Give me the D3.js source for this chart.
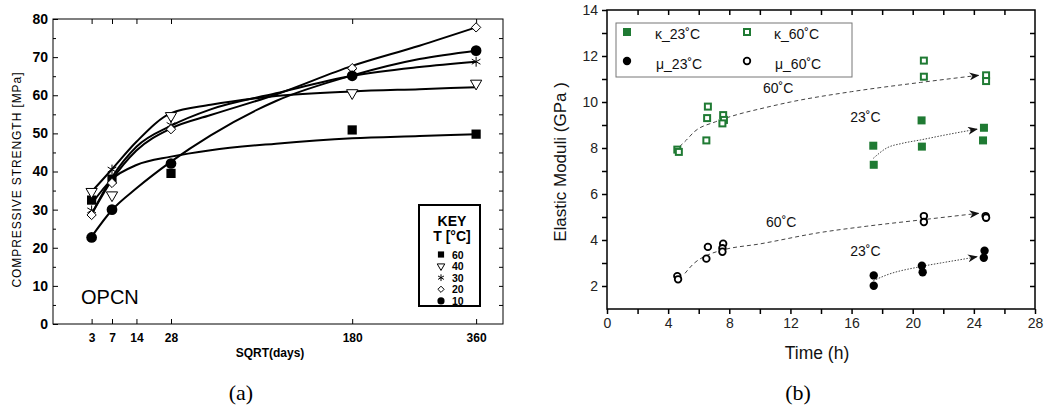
<!DOCTYPE html>
<html>
<head>
<meta charset="utf-8">
<script src="https://cdnjs.cloudflare.com/ajax/libs/d3/7.8.5/d3.min.js"></script>
<style>
  body { margin: 0; background: #fff; }
  svg { display: block; }
</style>
</head>
<body>
<div id="plot"></div>
<script>
// ---------- panel (a) data ----------
var days = [3, 7, 28, 180, 360];
var dayTicks = [3, 7, 14, 28, 180, 360];
var s60 = [32.5, 38, 39.5, 50.9, 49.8];
var s40 = [34.7, 33.8, 54.6, 60.6, 63.1];
var s30 = [29.8, 40.5, 52.2, 66.2, 68.8];
var s20 = [28.6, 37, 51.1, 67.1, 77.8];
var s10 = [22.7, 30, 42.1, 65.1, 71.7];
// fitted curves
var fitDays = [3, 7, 14, 28, 50, 100, 180, 270, 360];
var fit60 = [31.5, 38, 41.7, 43.9, 45.6, 47.3, 48.7, 49.3, 49.8];
var fit40 = [34.7, 40.6, 47.8, 55.3, 57.5, 59.8, 61, 61.6, 62.1];
var fit30 = [28.8, 38.5, 46.5, 52, 56.3, 60.5, 65.1, 67.4, 68.8];
var fit20 = [28.8, 37.8, 45.5, 51.3, 54.8, 60.2, 67.7, 73, 77.8];
var fit10 = [22.9, 29.9, 35.6, 42.6, 49.5, 58.5, 65.2, 69.5, 71.7];
var keyLabels = ["60", "40", "30", "20", "10"];

// ---------- panel (b) data ----------
var k23 = [[17.42, 8.1], [17.45, 7.27], [20.58, 9.2], [20.6, 8.06], [24.66, 8.88], [24.6, 8.33]];
var k60 = [[4.6, 7.93], [4.7, 7.83], [6.6, 9.8], [6.55, 9.3], [6.5, 8.33], [7.6, 9.43], [7.65, 9.22], [7.55, 9.07],
           [20.73, 11.8], [20.73, 11.1], [24.8, 11.16], [24.8, 10.91]];
var m23 = [[17.45, 2.46], [17.45, 2.01], [20.6, 2.88], [20.65, 2.6], [24.7, 3.53], [24.65, 3.23]];
var m60 = [[4.6, 2.43], [4.65, 2.29], [6.6, 3.7], [6.5, 3.19], [7.6, 3.84], [7.55, 3.64], [7.55, 3.49],
           [20.73, 5.04], [20.73, 4.78], [24.77, 5.04], [24.8, 4.97]];
var k60Trend = [[4.75, 8.06], [5.2, 8.35], [5.7, 8.7], [7.1, 9.14], [8.5, 9.45], [10, 9.7], [12, 10.0], [16, 10.45], [20.5, 10.85], [24.3, 11.16]];
var k23Trend = [[17.42, 7.55], [18.3, 8.0], [19.3, 8.2], [20.5, 8.35], [22, 8.55], [24.2, 8.82]];
var m60Trend = [[5.1, 2.55], [5.7, 2.99], [6.6, 3.35], [7.6, 3.57], [10, 3.83], [13.9, 4.32], [17, 4.6], [20.5, 4.87], [24.3, 5.16]];
var m23Trend = [[17.42, 2.23], [18.3, 2.48], [20.5, 2.84], [22, 3.02], [23.6, 3.2], [24.2, 3.27]];
// text labels next to the trend lines: label, time, value
var trendLabels = [["60˚C", 11.2, 10.6], ["23˚C", 16.9, 9.36], ["60˚C", 11.4, 4.77], ["23˚C", 16.9, 3.52]];

var GREEN = "#1f7a33";

var svg = d3.select("#plot").append("svg")
  .attr("width", 1049).attr("height", 408)
  .style("font-family", "'Liberation Sans', Arial, sans-serif");

// ================= panel (a) =================
var xA = d3.scaleSqrt().domain([0, 400]).range([53, 499]);
var yA = d3.scaleLinear().domain([0, 80]).range([324, 19]);
var gA = svg.append("g");

// frame
gA.append("rect").attr("x", 53).attr("y", 19).attr("width", 450).attr("height", 305)
  .attr("fill", "none").attr("stroke", "#000").attr("stroke-width", 1);

var axBottomA = gA.append("g").attr("transform", "translate(0,324)")
  .call(d3.axisBottom(xA).tickValues(dayTicks).tickSize(-5).tickSizeOuter(0).tickPadding(9));
var axTopA = gA.append("g").attr("transform", "translate(0,19)")
  .call(d3.axisTop(xA).tickValues(dayTicks).tickSize(-5).tickSizeOuter(0).tickFormat(""));
var axLeftA = gA.append("g").attr("transform", "translate(53,0)")
  .call(d3.axisLeft(yA).tickValues(d3.range(0, 81, 10)).tickSize(-5).tickSizeOuter(0).tickPadding(5));
var axLeftMinA = gA.append("g").attr("transform", "translate(53,0)")
  .call(d3.axisLeft(yA).tickValues(d3.range(5, 80, 10)).tickSize(-3).tickSizeOuter(0).tickFormat(""));
var axRightA = gA.append("g").attr("transform", "translate(503,0)")
  .call(d3.axisRight(yA).tickValues(d3.range(5, 80, 5)).tickSize(-4).tickSizeOuter(0).tickFormat(""));

[axBottomA, axTopA, axLeftA, axLeftMinA, axRightA].forEach(function(a) {
  a.select(".domain").remove();
  a.selectAll("line").attr("stroke", "#000");
});
axBottomA.selectAll("text").attr("font-size", 12).attr("font-weight", "bold")
  .attr("font-family", "'Liberation Sans', Arial, sans-serif");
axLeftA.selectAll("text").attr("font-size", 14).attr("font-weight", "bold")
  .attr("font-family", "'Liberation Sans', Arial, sans-serif");

gA.append("text").attr("x", 270).attr("y", 357).attr("text-anchor", "middle")
  .attr("font-size", 12).attr("font-weight", "bold").text("SQRT(days)");
gA.append("text").attr("transform", "translate(21,180) rotate(-90)").attr("text-anchor", "middle")
  .attr("font-size", 12).attr("textLength", 215).text("COMPRESSIVE STRENGTH [MPa]");
gA.append("text").attr("x", 81).attr("y", 304).attr("font-size", 20).text("OPCN");

// fitted curves
var lineA = d3.line()
  .x(function(d) { return xA(d[0]); })
  .y(function(d) { return yA(d[1]); })
  .curve(d3.curveMonotoneX);
[fit60, fit40, fit30, fit20, fit10].forEach(function(f) {
  gA.append("path")
    .datum(fitDays.map(function(d, i) { return [d, f[i]]; }))
    .attr("d", lineA).attr("fill", "none").attr("stroke", "#000").attr("stroke-width", 2);
});

// markers
function markerA(sel, kind, scale) {
  scale = scale || 1;
  if (kind === "60") {
    sel.attr("d", d3.symbol().type(d3.symbolSquare).size(85 * scale)).attr("fill", "#000");
  } else if (kind === "40") {
    sel.attr("d", d3.symbol().type(d3.symbolTriangle).size(55 * scale))
      .attr("fill", "#fff").attr("stroke", "#000").attr("stroke-width", 1)
      .attr("transform", function() { return d3.select(this).attr("transform") + " rotate(180)"; });
  } else if (kind === "30") {
    sel.attr("d", d3.symbol().type(d3.symbolAsterisk).size(70 * scale))
      .attr("fill", "none").attr("stroke", "#000").attr("stroke-width", 1);
  } else if (kind === "20") {
    sel.attr("d", d3.symbol().type(d3.symbolDiamond2).size(55 * scale))
      .attr("fill", "#fff").attr("stroke", "#000").attr("stroke-width", 1);
  } else {
    sel.attr("d", d3.symbol().type(d3.symbolCircle).size(90 * scale)).attr("fill", "#000");
  }
}
var seriesA = [s60, s40, s30, s20, s10];
seriesA.forEach(function(s, k) {
  gA.selectAll(null).data(days).enter().append("path")
    .attr("transform", function(d, i) { return "translate(" + xA(d) + "," + yA(s[i]) + ")"; })
    .call(markerA, keyLabels[k]);
});

// key box
var keyA = gA.append("g");
keyA.append("rect").attr("x", 419).attr("y", 205).attr("width", 61).attr("height", 101)
  .attr("fill", "#fff").attr("stroke", "#000").attr("stroke-width", 2);
keyA.append("text").attr("x", 452).attr("y", 226).attr("text-anchor", "middle")
  .attr("font-size", 14).attr("font-weight", "bold").text("KEY");
keyA.append("text").attr("x", 452).attr("y", 241).attr("text-anchor", "middle")
  .attr("font-size", 14).attr("font-weight", "bold").text("T [°C]");
keyLabels.forEach(function(lab, i) {
  var yy = 254.5 + i * 11.6;
  keyA.append("path").attr("transform", "translate(441," + yy + ")").call(markerA, lab, 0.45);
  keyA.append("text").attr("x", 452).attr("y", yy + 4).attr("font-size", 10.5)
    .attr("font-weight", "bold").text(lab);
});

svg.append("text").attr("x", 241).attr("y", 400).attr("text-anchor", "middle")
  .attr("font-family", "'Liberation Serif', 'Times New Roman', serif").attr("font-size", 22).text("(a)");

// ================= panel (b) =================
var xB = d3.scaleLinear().domain([0, 28]).range([607, 1035]);
var yB = d3.scaleLinear().domain([1, 14]).range([309, 10]);
var gB = svg.append("g");

gB.append("rect").attr("x", 607).attr("y", 10).attr("width", 428).attr("height", 299)
  .attr("fill", "none").attr("stroke", "#000").attr("stroke-width", 1.5);

var axBottomB = gB.append("g").attr("transform", "translate(0,309)")
  .call(d3.axisBottom(xB).tickValues(d3.range(0, 29, 2)).tickSize(5).tickSizeOuter(0).tickPadding(4)
    .tickFormat(function(d) { return d % 4 === 0 ? d : ""; }));
var axTopB = gB.append("g").attr("transform", "translate(0,10)")
  .call(d3.axisTop(xB).tickValues(d3.range(2, 28, 2)).tickSize(-5).tickSizeOuter(0).tickFormat(""));
var axLeftB = gB.append("g").attr("transform", "translate(607,0)")
  .call(d3.axisLeft(yB).tickValues(d3.range(2, 15, 1)).tickSize(5).tickSizeOuter(0).tickPadding(4)
    .tickFormat(function(d) { return d % 2 === 0 ? d : ""; }));
var axRightB = gB.append("g").attr("transform", "translate(1035,0)")
  .call(d3.axisRight(yB).tickValues(d3.range(2, 14, 1)).tickSize(-5).tickSizeOuter(0).tickFormat(""));

[axBottomB, axTopB, axLeftB, axRightB].forEach(function(a) {
  a.select(".domain").remove();
  a.selectAll("line").attr("stroke", "#000").attr("stroke-width", 1.5);
  a.selectAll("text").attr("font-size", 14).attr("fill", "#222")
    .attr("font-family", "'Liberation Sans', Arial, sans-serif");
});

gB.append("text").attr("x", 817).attr("y", 359).attr("text-anchor", "middle")
  .attr("font-size", 17.5).attr("fill", "#111").text("Time (h)");
gB.append("text").attr("transform", "translate(566,162) rotate(-90)").attr("text-anchor", "middle")
  .attr("font-size", 17).attr("fill", "#111").text("Elastic Moduli (GPa )");

// arrowhead
svg.append("defs").append("marker")
  .attr("id", "arrow").attr("viewBox", "0 0 10 8").attr("refX", 9).attr("refY", 4)
  .attr("markerWidth", 10).attr("markerHeight", 8).attr("markerUnits", "userSpaceOnUse")
  .attr("orient", "auto")
  .append("path").attr("d", "M0,0 L10,4 L0,8 L3,4 Z").attr("fill", "#111");

var lineB = d3.line()
  .x(function(d) { return xB(d[0]); })
  .y(function(d) { return yB(d[1]); })
  .curve(d3.curveMonotoneX);
[[k60Trend, "4,3"], [m60Trend, "4,3"], [k23Trend, "1.5,1.5"], [m23Trend, "1.5,1.5"]].forEach(function(t) {
  gB.append("path").datum(t[0]).attr("d", lineB)
    .attr("fill", "none").attr("stroke", "#444").attr("stroke-width", 1)
    .attr("stroke-dasharray", t[1]).attr("marker-end", "url(#arrow)");
});

trendLabels.forEach(function(a) {
  gB.append("text").attr("x", xB(a[1])).attr("y", yB(a[2]) + 5).attr("text-anchor", "middle")
    .attr("font-size", 14).attr("fill", "#111").text(a[0]);
});

function drawPts(data, kind) {
  var sel = gB.selectAll(null).data(data).enter();
  if (kind === "sqFill") {
    sel.append("rect").attr("x", function(d) { return xB(d[0]) - 4; })
      .attr("y", function(d) { return yB(d[1]) - 4; }).attr("width", 8).attr("height", 8)
      .attr("fill", GREEN);
  } else if (kind === "sqOpen") {
    sel.append("rect").attr("x", function(d) { return xB(d[0]) - 3; })
      .attr("y", function(d) { return yB(d[1]) - 3; }).attr("width", 6).attr("height", 6)
      .attr("fill", "#fff").attr("stroke", GREEN).attr("stroke-width", 2);
  } else if (kind === "ciFill") {
    sel.append("circle").attr("cx", function(d) { return xB(d[0]); })
      .attr("cy", function(d) { return yB(d[1]); }).attr("r", 4.2).attr("fill", "#000");
  } else {
    sel.append("circle").attr("cx", function(d) { return xB(d[0]); })
      .attr("cy", function(d) { return yB(d[1]); }).attr("r", 3.3)
      .attr("fill", "#fff").attr("stroke", "#000").attr("stroke-width", 1.8);
  }
}
drawPts(k23, "sqFill");
drawPts(k60, "sqOpen");
drawPts(m23, "ciFill");
drawPts(m60, "ciOpen");

// legend
var legB = gB.append("g");
legB.append("rect").attr("x", 616).attr("y", 23).attr("width", 236).attr("height", 54)
  .attr("fill", "#fff").attr("stroke", "#777").attr("stroke-width", 1);
var legItems = [
  ["sqFill", "κ_23˚C", 627, 32, 655, 39],
  ["sqOpen", "κ_60˚C", 747, 32, 774, 39],
  ["ciFill", "μ_23˚C", 627, 61, 656, 69],
  ["ciOpen", "μ_60˚C", 747, 61, 775, 69]
];
legItems.forEach(function(it) {
  var k = it[0], cx = it[2], cy = it[3];
  if (k === "sqFill") legB.append("rect").attr("x", cx - 4).attr("y", cy - 4).attr("width", 8).attr("height", 8).attr("fill", GREEN);
  if (k === "sqOpen") legB.append("rect").attr("x", cx - 3).attr("y", cy - 3).attr("width", 6).attr("height", 6)
    .attr("fill", "#fff").attr("stroke", GREEN).attr("stroke-width", 2);
  if (k === "ciFill") legB.append("circle").attr("cx", cx).attr("cy", cy).attr("r", 4.2).attr("fill", "#000");
  if (k === "ciOpen") legB.append("circle").attr("cx", cx).attr("cy", cy).attr("r", 3.3)
    .attr("fill", "#fff").attr("stroke", "#000").attr("stroke-width", 1.8);
  legB.append("text").attr("x", it[4]).attr("y", it[5]).attr("font-size", 14).attr("fill", "#111").text(it[1]);
});

svg.append("text").attr("x", 798).attr("y", 400).attr("text-anchor", "middle")
  .attr("font-family", "'Liberation Serif', 'Times New Roman', serif").attr("font-size", 22).text("(b)");
</script>
</body>
</html>
